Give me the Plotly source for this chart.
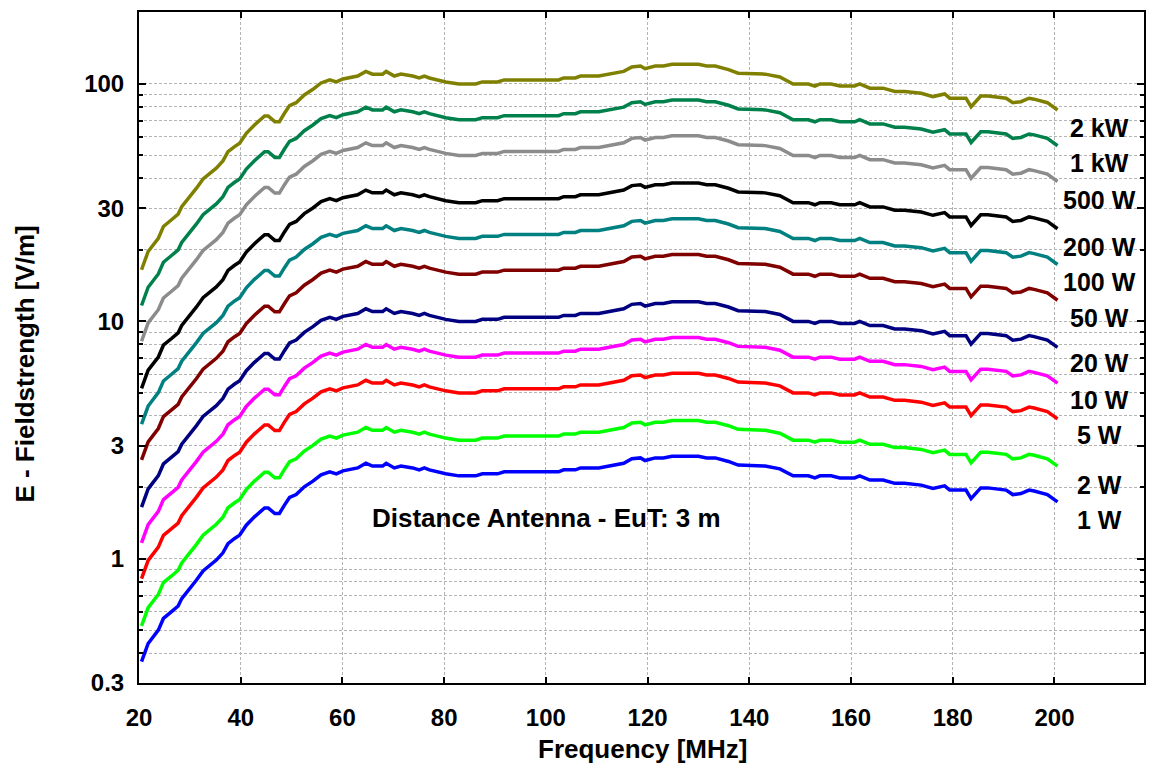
import plotly.graph_objects as go

# ---------------- data ----------------
freq_mhz = [20.5, 21.8, 23.8, 24.8, 26.4, 27.7, 28.4, 30.0, 31.3, 32.6, 34.0, 35.2, 36.5, 37.5,
            38.8, 39.8, 41.1, 42.7, 44.7, 45.4, 46.7, 47.6, 48.6, 49.6, 50.9, 52.5, 54.2, 55.8,
            57.5, 58.8, 60.1, 63.0, 64.6, 65.9, 67.9, 68.6, 70.2, 71.5, 73.8, 75.1, 76.1, 77.1,
            80.3, 82.9, 86.2, 87.5, 90.5, 91.8, 102.5, 103.5, 105.8, 106.8, 110.4, 113.0, 115.3,
            116.9, 118.6, 119.5, 121.5, 123.1, 124.8, 130.0, 131.6, 133.3, 135.9, 137.8, 143.1,
            146.0, 148.6, 151.6, 152.9, 153.9, 156.1, 157.8, 160.7, 161.7, 163.7, 166.3, 168.6,
            170.5, 173.8, 176.1, 178.4, 179.4, 182.6, 183.6, 185.5, 186.9, 190.5, 191.8, 193.4,
            195.0, 196.0, 198.6, 200.6]

e_2kw = [16.5, 19.7, 22.4, 25.1, 26.8, 28.3, 30.4, 33.5, 36.4, 39.8, 42.1, 44.2, 47.4, 51.9,
         54.5, 56.3, 62.0, 67.2, 73.3, 73.3, 69.4, 69.4, 75.3, 81.1, 83.4, 89.9, 95.0, 101,
         104, 102, 105, 108, 113, 110, 110, 113, 108, 110, 108, 106, 108, 106,
         102, 100, 100, 102, 102, 104, 104, 106, 106, 108, 108, 111, 113,
         118, 119, 116, 119, 119, 121, 121, 119, 119, 115, 111, 110,
         107, 100, 100, 98, 100, 100, 98, 98, 100, 96, 96, 93,
         93, 91.4, 88.5, 90.8, 87.1, 87.1, 80.2, 89.0, 89.0, 87.1, 83.4, 84.2,
         87.1, 86.3, 83.4, 77.7]

e_1kw = [11.67, 13.93, 15.84, 17.75, 18.95, 20.01, 21.50, 23.69, 25.74, 28.14, 29.77, 31.25, 33.52, 36.70,
         38.54, 39.81, 43.84, 47.52, 51.83, 51.83, 49.07, 49.07, 53.24, 57.35, 58.97, 63.57, 67.17, 71.42,
         73.54, 72.12, 74.25, 76.37, 79.90, 77.78, 77.78, 79.90, 76.37, 77.78, 76.37, 74.95, 76.37, 74.95,
         72.12, 70.71, 70.71, 72.12, 72.12, 73.54, 73.54, 74.95, 74.95, 76.37, 76.37, 78.49, 79.90,
         83.44, 84.14, 82.02, 84.14, 84.14, 85.56, 85.56, 84.14, 84.14, 81.32, 78.49, 77.78,
         75.66, 70.71, 70.71, 69.30, 70.71, 70.71, 69.30, 69.30, 70.71, 67.88, 67.88, 65.76,
         65.76, 64.63, 62.58, 64.20, 61.59, 61.59, 56.71, 62.93, 62.93, 61.59, 58.97, 59.54,
         61.59, 61.02, 58.97, 54.94]

e_500w = [8.25, 9.85, 11.2, 12.55, 13.4, 14.15, 15.2, 16.75, 18.2, 19.9, 21.05, 22.1, 23.7, 25.95,
          27.25, 28.15, 31.0, 33.6, 36.65, 36.65, 34.7, 34.7, 37.65, 40.55, 41.7, 44.95, 47.5, 50.5,
          52.0, 51.0, 52.5, 54.0, 56.5, 55.0, 55.0, 56.5, 54.0, 55.0, 54.0, 53.0, 54.0, 53.0,
          51.0, 50.0, 50.0, 51.0, 51.0, 52.0, 52.0, 53.0, 53.0, 54.0, 54.0, 55.5, 56.5,
          59.0, 59.5, 58.0, 59.5, 59.5, 60.5, 60.5, 59.5, 59.5, 57.5, 55.5, 55.0,
          53.5, 50.0, 50.0, 49.0, 50.0, 50.0, 49.0, 49.0, 50.0, 48.0, 48.0, 46.5,
          46.5, 45.7, 44.25, 45.4, 43.55, 43.55, 40.1, 44.5, 44.5, 43.55, 41.7, 42.1,
          43.55, 43.15, 41.7, 38.85]

e_200w = [5.22, 6.23, 7.08, 7.94, 8.47, 8.95, 9.61, 10.59, 11.51, 12.58, 13.31, 13.98, 14.99, 16.41,
          17.23, 17.80, 19.60, 21.25, 23.18, 23.18, 21.94, 21.94, 23.81, 25.64, 26.37, 28.43, 30.04, 31.94,
          32.88, 32.25, 33.20, 34.15, 35.73, 34.78, 34.78, 35.73, 34.15, 34.78, 34.15, 33.52, 34.15, 33.52,
          32.25, 31.62, 31.62, 32.25, 32.25, 32.88, 32.88, 33.52, 33.52, 34.15, 34.15, 35.10, 35.73,
          37.31, 37.63, 36.68, 37.63, 37.63, 38.26, 38.26, 37.63, 37.63, 36.36, 35.10, 34.78,
          33.83, 31.62, 31.62, 30.99, 31.62, 31.62, 30.99, 30.99, 31.62, 30.36, 30.36, 29.41,
          29.41, 28.90, 27.98, 28.71, 27.54, 27.54, 25.36, 28.14, 28.14, 27.54, 26.37, 26.62,
          27.54, 27.29, 26.37, 24.57]

e_100w = [3.69, 4.40, 5.01, 5.61, 5.99, 6.33, 6.80, 7.49, 8.14, 8.90, 9.41, 9.88, 10.60, 11.60,
          12.19, 12.59, 13.86, 15.03, 16.39, 16.39, 15.52, 15.52, 16.84, 18.13, 18.65, 20.10, 21.24, 22.58,
          23.25, 22.81, 23.48, 24.15, 25.27, 24.60, 24.60, 25.27, 24.15, 24.60, 24.15, 23.70, 24.15, 23.70,
          22.81, 22.36, 22.36, 22.81, 22.81, 23.25, 23.25, 23.70, 23.70, 24.15, 24.15, 24.82, 25.27,
          26.38, 26.61, 25.94, 26.61, 26.61, 27.06, 27.06, 26.61, 26.61, 25.71, 24.82, 24.60,
          23.93, 22.36, 22.36, 21.91, 22.36, 22.36, 21.91, 21.91, 22.36, 21.47, 21.47, 20.79,
          20.79, 20.44, 19.79, 20.30, 19.48, 19.48, 17.93, 19.90, 19.90, 19.48, 18.65, 18.83,
          19.48, 19.30, 18.65, 17.37]

e_50w = [2.61, 3.11, 3.54, 3.97, 4.24, 4.47, 4.81, 5.30, 5.75, 6.29, 6.66, 6.99, 7.49, 8.21,
         8.62, 8.90, 9.80, 10.62, 11.59, 11.59, 10.97, 10.97, 11.90, 12.82, 13.19, 14.21, 15.02, 15.97,
         16.44, 16.13, 16.60, 17.07, 17.87, 17.39, 17.39, 17.87, 17.07, 17.39, 17.07, 16.76, 17.07, 16.76,
         16.13, 15.81, 15.81, 16.13, 16.13, 16.44, 16.44, 16.76, 16.76, 17.07, 17.07, 17.55, 17.87,
         18.66, 18.81, 18.34, 18.81, 18.81, 19.13, 19.13, 18.81, 18.81, 18.18, 17.55, 17.39,
         16.92, 15.81, 15.81, 15.49, 15.81, 15.81, 15.49, 15.49, 15.81, 15.18, 15.18, 14.70,
         14.70, 14.45, 13.99, 14.36, 13.77, 13.77, 12.68, 14.07, 14.07, 13.77, 13.19, 13.31,
         13.77, 13.64, 13.19, 12.28]

e_20w = [1.65, 1.97, 2.24, 2.51, 2.68, 2.83, 3.04, 3.35, 3.64, 3.98, 4.21, 4.42, 4.74, 5.19,
         5.45, 5.63, 6.20, 6.72, 7.33, 7.33, 6.94, 6.94, 7.53, 8.11, 8.34, 8.99, 9.50, 10.1,
         10.4, 10.2, 10.5, 10.8, 11.3, 11.0, 11.0, 11.3, 10.8, 11.0, 10.8, 10.6, 10.8, 10.6,
         10.2, 10.0, 10.0, 10.2, 10.2, 10.4, 10.4, 10.6, 10.6, 10.8, 10.8, 11.1, 11.3,
         11.8, 11.9, 11.6, 11.9, 11.9, 12.1, 12.1, 11.9, 11.9, 11.5, 11.1, 11.0,
         10.7, 10.0, 10.0, 9.8, 10.0, 10.0, 9.8, 9.8, 10.0, 9.6, 9.6, 9.3,
         9.3, 9.14, 8.85, 9.08, 8.71, 8.71, 8.02, 8.90, 8.90, 8.71, 8.34, 8.42,
         8.71, 8.63, 8.34, 7.77]

e_10w = [1.167, 1.393, 1.584, 1.775, 1.895, 2.001, 2.150, 2.369, 2.574, 2.814, 2.977, 3.125, 3.352, 3.670,
         3.854, 3.981, 4.384, 4.752, 5.183, 5.183, 4.907, 4.907, 5.324, 5.735, 5.897, 6.357, 6.717, 7.142,
         7.354, 7.212, 7.425, 7.637, 7.990, 7.778, 7.778, 7.990, 7.637, 7.778, 7.637, 7.495, 7.637, 7.495,
         7.212, 7.071, 7.071, 7.212, 7.212, 7.354, 7.354, 7.495, 7.495, 7.637, 7.637, 7.849, 7.990,
         8.344, 8.414, 8.202, 8.414, 8.414, 8.556, 8.556, 8.414, 8.414, 8.132, 7.849, 7.778,
         7.566, 7.071, 7.071, 6.930, 7.071, 7.071, 6.930, 6.930, 7.071, 6.788, 6.788, 6.576,
         6.576, 6.463, 6.258, 6.420, 6.159, 6.159, 5.671, 6.293, 6.293, 6.159, 5.897, 5.954,
         6.159, 6.102, 5.897, 5.494]

e_5w = [0.825, 0.985, 1.12, 1.255, 1.34, 1.415, 1.52, 1.675, 1.82, 1.99, 2.105, 2.21, 2.37, 2.595,
        2.725, 2.815, 3.10, 3.36, 3.665, 3.665, 3.47, 3.47, 3.765, 4.055, 4.17, 4.495, 4.75, 5.05,
        5.2, 5.1, 5.25, 5.4, 5.65, 5.5, 5.5, 5.65, 5.4, 5.5, 5.4, 5.3, 5.4, 5.3,
        5.1, 5.0, 5.0, 5.1, 5.1, 5.2, 5.2, 5.3, 5.3, 5.4, 5.4, 5.55, 5.65,
        5.9, 5.95, 5.8, 5.95, 5.95, 6.05, 6.05, 5.95, 5.95, 5.75, 5.55, 5.5,
        5.35, 5.0, 5.0, 4.9, 5.0, 5.0, 4.9, 4.9, 5.0, 4.8, 4.8, 4.65,
        4.65, 4.57, 4.425, 4.54, 4.355, 4.355, 4.01, 4.45, 4.45, 4.355, 4.17, 4.21,
        4.355, 4.315, 4.17, 3.885]

e_2w = [0.522, 0.623, 0.708, 0.794, 0.847, 0.895, 0.961, 1.059, 1.151, 1.258, 1.331, 1.398, 1.499, 1.641,
        1.723, 1.780, 1.960, 2.125, 2.318, 2.318, 2.194, 2.194, 2.381, 2.564, 2.637, 2.843, 3.004, 3.194,
        3.288, 3.225, 3.320, 3.415, 3.573, 3.478, 3.478, 3.573, 3.415, 3.478, 3.415, 3.352, 3.415, 3.352,
        3.225, 3.162, 3.162, 3.225, 3.225, 3.288, 3.288, 3.352, 3.352, 3.415, 3.415, 3.510, 3.573,
        3.731, 3.763, 3.668, 3.763, 3.763, 3.826, 3.826, 3.763, 3.763, 3.636, 3.510, 3.478,
        3.383, 3.162, 3.162, 3.099, 3.162, 3.162, 3.099, 3.099, 3.162, 3.036, 3.036, 2.941,
        2.941, 2.890, 2.798, 2.871, 2.754, 2.754, 2.536, 2.814, 2.814, 2.754, 2.637, 2.662,
        2.754, 2.729, 2.637, 2.457]

e_1w = [0.369, 0.440, 0.501, 0.561, 0.599, 0.633, 0.680, 0.749, 0.814, 0.890, 0.941, 0.988, 1.060, 1.160,
        1.219, 1.259, 1.386, 1.503, 1.639, 1.639, 1.552, 1.552, 1.684, 1.813, 1.865, 2.010, 2.124, 2.258,
        2.325, 2.281, 2.348, 2.415, 2.527, 2.460, 2.460, 2.527, 2.415, 2.460, 2.415, 2.370, 2.415, 2.370,
        2.281, 2.236, 2.236, 2.281, 2.281, 2.325, 2.325, 2.370, 2.370, 2.415, 2.415, 2.482, 2.527,
        2.638, 2.661, 2.594, 2.661, 2.661, 2.706, 2.706, 2.661, 2.661, 2.571, 2.482, 2.460,
        2.393, 2.236, 2.236, 2.191, 2.236, 2.236, 2.191, 2.191, 2.236, 2.147, 2.147, 2.079,
        2.079, 2.044, 1.979, 2.030, 1.948, 1.948, 1.793, 1.990, 1.990, 1.948, 1.865, 1.883,
        1.948, 1.930, 1.865, 1.737]

power_labels = ["2 kW", "1 kW", "500 W", "200 W", "100 W", "50 W",
                "20 W", "10 W", "5 W", "2 W", "1 W"]
series_values = [e_2kw, e_1kw, e_500w, e_200w, e_100w, e_50w,
                 e_20w, e_10w, e_5w, e_2w, e_1w]

x_tick_values = [20, 40, 60, 80, 100, 120, 140, 160, 180, 200]
y_tick_values = [0.3, 1, 3, 10, 30, 100]
y_tick_labels = ["0.3", "1", "3", "10", "30", "100"]
y_grid_values = [0.4, 0.5, 0.6, 0.7, 0.8, 0.9, 2, 4, 5, 6, 7, 8, 9,
                 20, 40, 50, 60, 70, 80, 90]

note_text = "Distance Antenna - EuT: 3 m"
x_title = "Frequency [MHz]"
y_title = "E - Fieldstrength [V/m]"

# ---------------- styles ----------------
colors = ["#808000", "#00804a", "#8c8c8c", "#000000", "#008080", "#800000",
          "#000080", "#ff00ff", "#ff0000", "#00ff00", "#0000ff"]
# label vertical positions (paper coords) for the power labels on the right
label_y_paper = [0.827, 0.775, 0.720, 0.650, 0.598, 0.544, 0.477, 0.422, 0.369, 0.295, 0.243]

FONT = "Liberation Sans, Arial, sans-serif"
GRID = "#b4b4b4"

fig = go.Figure()
for name, vals, col in zip(power_labels, series_values, colors):
    fig.add_trace(go.Scatter(x=freq_mhz, y=vals, mode="lines", name=name,
                             line=dict(color=col, width=3.5), showlegend=False))

for lab, yp in zip(power_labels, label_y_paper):
    fig.add_annotation(text=lab, xref="paper", yref="paper", x=0.9555, y=yp,
                       xanchor="center", yanchor="middle", showarrow=False,
                       font=dict(family=FONT, size=25, color="black", weight="bold"))

fig.add_annotation(text=note_text, xref="paper", yref="paper", x=0.405, y=0.2456,
                   xanchor="center", yanchor="middle", showarrow=False,
                   font=dict(family=FONT, size=26, color="black", weight="bold"))

fig.add_annotation(text=x_title, xref="paper", yref="paper", x=0.501, y=-0.0985,
                   xanchor="center", yanchor="middle", showarrow=False,
                   font=dict(family=FONT, size=26, color="black", weight="bold"))
fig.add_annotation(text=y_title, xref="paper", yref="paper", x=-0.1131, y=0.475,
                   xanchor="center", yanchor="middle", showarrow=False, textangle=-90,
                   font=dict(family=FONT, size=26, color="black", weight="bold"))

fig.update_layout(
    width=1150, height=765,
    margin=dict(l=139, r=4, t=12, b=82),
    paper_bgcolor="white", plot_bgcolor="white",
    xaxis=dict(
        range=[20, 217.6], tickmode="array", tickvals=x_tick_values,
        ticks="inside", ticklen=6, tickwidth=1.5, tickcolor="black",
        showline=True, linecolor="black", linewidth=2, mirror="ticks",
        showgrid=True, gridcolor=GRID, griddash="3px,2px", gridwidth=1,
        zeroline=False, ticklabelstandoff=12,
        tickfont=dict(family=FONT, size=24, color="black", weight="bold"),
    ),
    yaxis=dict(
        type="log", range=[-0.5229, 2.3031], tickmode="array",
        tickvals=y_tick_values, ticktext=y_tick_labels,
        ticks="inside", ticklen=7, tickwidth=1.5, tickcolor="black",
        showline=True, linecolor="black", linewidth=2, mirror="ticks",
        showgrid=True, gridcolor=GRID, griddash="3px,2px", gridwidth=1,
        zeroline=False, ticklabelstandoff=8,
        tickfont=dict(family=FONT, size=24, color="black", weight="bold"),
        minor=dict(tickmode="array", tickvals=y_grid_values, ticks="inside",
                   ticklen=4, tickcolor="black", showgrid=True,
                   gridcolor=GRID, griddash="3px,2px", gridwidth=1),
    ),
)

fig.write_html("out.html",
               config={"displayModeBar": False},
               post_script="document.body.style.margin='0';document.body.style.padding='0';"
                           "document.documentElement.style.overflow='hidden';")
